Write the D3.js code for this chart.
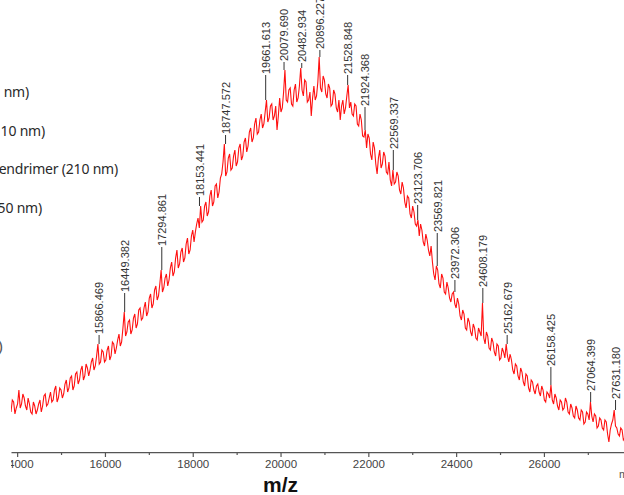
<!DOCTYPE html>
<html>
<head>
<meta charset="utf-8">
<script src="https://cdn.jsdelivr.net/npm/d3@7"></script>
<style>
  body { margin: 0; background: #fff; }
  svg { display: block; }
</style>
</head>
<body>
<svg id="chart" width="624" height="495"></svg>
<script>
// spectrum, sampled on a regular m/z grid
const mzStart = 13860;
const mzStep = 30;
const intensity = [
  10.0, 13.0, 12.5, 9.5, 11.0, 12.0, 15.5, 11.0, 12.0, 14.5, 13.5, 11.5, 10.5, 13.5, 12.0, 10.0, 9.5, 12.5, 11.5, 9.5,
  10.5, 12.0, 13.0, 10.0, 11.5, 14.0, 14.5, 11.5, 12.0, 13.5, 15.0, 12.5, 13.0, 15.5, 16.5, 12.5, 13.5, 16.0, 15.5, 13.5,
  14.5, 17.0, 18.0, 15.0, 16.0, 18.5, 19.0, 15.5, 16.5, 19.5, 20.0, 17.0, 18.0, 20.5, 21.5, 18.0, 19.0, 22.0, 21.0, 19.0,
  20.5, 22.5, 23.5, 20.5, 21.5, 24.0, 27.0, 22.0, 22.5, 25.5, 25.0, 22.5, 23.0, 25.5, 26.5, 23.0, 24.0, 27.5, 27.0, 24.5,
  26.0, 28.0, 29.5, 26.5, 27.5, 31.0, 35.0, 29.0, 30.0, 32.5, 33.0, 29.5, 30.5, 33.5, 34.5, 31.0, 32.0, 35.5, 36.0, 33.0,
  33.5, 36.0, 37.5, 34.0, 35.0, 38.5, 39.5, 36.0, 37.0, 40.5, 41.5, 38.0, 39.0, 42.0, 45.5, 40.0, 41.0, 43.5, 44.5, 41.5,
  43.0, 46.0, 47.5, 44.0, 45.0, 48.5, 50.5, 46.0, 47.0, 50.0, 51.0, 47.5, 48.5, 52.0, 53.5, 49.5, 50.5, 54.0, 55.5, 52.5,
  55.0, 57.0, 58.5, 56.0, 61.5, 57.5, 58.0, 61.5, 62.5, 59.0, 60.0, 64.0, 65.5, 61.5, 62.5, 66.5, 67.0, 63.5, 65.0, 68.5,
  69.5, 72.5, 77.0, 69.0, 70.0, 73.5, 74.5, 70.5, 71.0, 74.0, 75.5, 71.5, 72.5, 76.0, 77.0, 73.0, 74.0, 77.5, 78.5, 75.0,
  76.5, 80.0, 81.0, 77.5, 78.5, 82.0, 83.5, 79.5, 80.0, 83.0, 84.5, 81.0, 82.0, 85.0, 88.0, 82.5, 83.5, 86.5, 87.0, 83.0,
  84.0, 86.5, 80.5, 84.0, 88.5, 85.0, 86.0, 90.0, 95.5, 88.0, 87.5, 90.5, 91.0, 87.0, 86.5, 90.5, 92.0, 87.5, 88.5, 91.5,
  96.0, 90.5, 89.0, 93.0, 92.5, 87.5, 88.0, 90.0, 84.0, 88.5, 91.5, 88.0, 89.0, 92.5, 98.75, 91.0, 90.0, 94.0, 93.0, 89.5,
  88.5, 92.0, 91.0, 86.5, 87.0, 90.5, 89.5, 86.0, 85.0, 88.0, 83.0, 86.5, 88.0, 84.5, 86.0, 89.0, 91.75, 86.0, 87.5, 84.5,
  84.0, 87.0, 86.5, 82.0, 81.5, 84.5, 83.0, 79.0, 78.75, 80.5, 76.0, 79.5, 78.5, 74.5, 73.0, 77.5, 76.0, 72.0, 69.5, 73.5,
  75.5, 71.0, 72.0, 75.0, 74.0, 70.0, 69.5, 72.5, 68.0, 66.5, 70.5, 67.0, 67.5, 70.0, 69.0, 65.5, 64.5, 67.5, 66.0, 62.5,
  61.0, 64.0, 63.5, 59.5, 58.5, 61.5, 60.0, 57.0, 56.5, 58.0, 54.0, 57.0, 55.5, 52.5, 51.5, 54.5, 53.0, 50.5, 49.0, 51.5,
  47.5, 44.5, 43.0, 46.5, 45.5, 42.0, 41.0, 44.5, 43.5, 40.0, 39.5, 42.5, 41.0, 38.5, 37.5, 39.5, 40.0, 37.0, 36.0, 38.5,
  37.0, 34.0, 33.0, 35.5, 34.5, 31.0, 30.5, 33.5, 32.5, 30.0, 29.0, 32.0, 31.0, 28.5, 28.0, 31.0, 30.0, 29.0, 37.25, 28.5,
  27.0, 30.0, 29.0, 26.0, 25.5, 28.5, 27.5, 25.0, 24.0, 27.0, 26.5, 23.0, 23.5, 26.0, 25.0, 23.5, 27.0, 24.0, 22.5, 24.5,
  23.0, 20.5, 19.5, 22.0, 21.5, 19.0, 18.0, 21.0, 20.0, 17.5, 16.5, 19.5, 19.0, 16.0, 15.0, 18.0, 17.5, 15.5, 14.5, 16.5,
  17.0, 15.0, 14.0, 16.5, 15.5, 13.0, 12.5, 15.0, 14.5, 13.5, 16.75, 13.0, 12.0, 14.5, 13.5, 11.5, 10.5, 13.0, 12.5, 10.5,
  11.0, 13.5, 12.5, 10.0, 9.5, 12.0, 11.0, 9.0, 8.5, 11.5, 10.5, 8.5, 8.0, 10.5, 10.0, 7.0, 7.5, 10.0, 9.5, 8.0,
  12.5, 9.0, 7.5, 9.5, 9.0, 6.0, 6.5, 8.5, 8.0, 6.0, 5.5, 8.0, 7.5, 4.5, 2.5, 5.5, 7.0, 8.0, 10.5, 6.5,
  6.0, 4.5, 4.0, 6.0, 5.5, 3.0, 3.5
];

// picked peaks: m/z and the intensity where the label text starts
const peakMz = [
  15866.469, 16449.382, 17294.861, 18153.441, 18747.572, 19661.613, 20079.690,
  20482.934, 20896.227, 21528.848, 21924.368, 22569.337, 23123.706, 23569.821,
  23972.306, 24608.179, 25162.679, 26158.425, 27064.399, 27631.180
];
const peakLabelAt = [
  29.25, 39.75, 51.25, 63.75, 79.25, 94.25, 97.5,
  97.25, 100.5, 94.25, 86.25, 75.5, 61.75, 54.75,
  43, 41, 29.25, 21.25, 15, 13
];

const majorTicks = [14000, 16000, 18000, 20000, 22000, 24000, 26000];
const minorTicks = [15000, 17000, 19000, 21000, 23000, 25000, 27000];
const legendFragments = ["nm)", "10 nm)", "endrimer (210 nm)", "50 nm)"];

const svg = d3.select("#chart");
const width = 624, height = 495;

const x = d3.scaleLinear().domain([13860, 27824]).range([11, 624]);
const y = d3.scaleLinear().domain([0, 100]).range([452, 52]);

const spectrum = intensity.map((v, i) => ({ mz: mzStart + i * mzStep, v }));

svg.append("defs").append("clipPath").attr("id", "plotClip")
  .append("rect").attr("x", 11).attr("y", 0).attr("width", width - 11).attr("height", height);

// legend text left over from the neighbouring panel
svg.append("g")
  .selectAll("text")
  .data(legendFragments)
  .join("text")
  .attr("x", (d, i) => [29, 45, 118, 42][i])
  .attr("y", (d, i) => 97 + i * 38.7)
  .attr("text-anchor", "end")
  .attr("font-family", "Noto Sans, Arial, sans-serif")
  .attr("font-size", 14)
  .attr("letter-spacing", "-0.2")
  .attr("fill", "#2a2a2a")
  .text(d => d);

svg.append("text")
  .attr("x", 3).attr("y", 352)
  .attr("text-anchor", "end")
  .attr("font-family", "Arial, sans-serif")
  .attr("font-size", 16)
  .attr("fill", "#555")
  .text(")");

const plot = svg.append("g").attr("clip-path", "url(#plotClip)");

// spectrum trace
plot.append("path")
  .datum(spectrum)
  .attr("fill", "none")
  .attr("stroke", "#ff1010")
  .attr("stroke-width", 1.1)
  .attr("stroke-linejoin", "miter")
  .attr("d", d3.line().x(d => x(d.mz)).y(d => y(d.v)));

// peak labels
const fmt = d3.format(".3f");
const peaks = peakMz.map((mz, i) => {
  const k = Math.round((mz - mzStart) / mzStep);
  const top = d3.max(intensity.slice(Math.max(0, k - 1), k + 2));
  return { mz, top, at: peakLabelAt[i] };
});

const pk = plot.append("g").selectAll("g").data(peaks).join("g");
pk.append("line")
  .attr("x1", d => x(d.mz)).attr("x2", d => x(d.mz))
  .attr("y1", d => y(d.top)).attr("y2", d => y(d.at))
  .attr("stroke", "#333").attr("stroke-width", 1);
pk.append("text")
  .attr("transform", d => `translate(${x(d.mz) + 0.5},${y(d.at) - 1}) rotate(-90)`)
  .attr("dy", "0.35em")
  .attr("font-family", "Arial, Liberation Sans, sans-serif")
  .attr("font-size", 11)
  .attr("fill", "#333")
  .text(d => fmt(d.mz));

// x axis
const axisG = svg.append("g")
  .attr("clip-path", "url(#plotClip)")
  .attr("transform", "translate(0,452)");

axisG.append("g")
  .call(d3.axisBottom(x).tickValues(minorTicks).tickSize(3).tickSizeOuter(0).tickFormat(""))
  .call(g => g.select(".domain").remove());

axisG.append("g")
  .call(d3.axisBottom(x).tickValues(majorTicks).tickSize(5).tickSizeOuter(0).tickFormat(d3.format("d")))
  .call(g => g.select(".domain").attr("stroke", "#555").attr("stroke-width", 1.4))
  .call(g => g.selectAll(".tick text")
    .attr("font-family", "Arial, Liberation Sans, sans-serif")
    .attr("font-size", 11.5)
    .attr("fill", "#444"));

axisG.selectAll(".tick line").attr("stroke", "#555").attr("stroke-width", 1.2);

svg.append("text")
  .attr("x", x(20000)).attr("y", 492)
  .attr("text-anchor", "middle")
  .attr("font-family", "Arial, Liberation Sans, sans-serif")
  .attr("font-weight", "bold")
  .attr("font-size", 21)
  .attr("fill", "#111")
  .text("m/z");

svg.append("text")
  .attr("x", 619).attr("y", 478)
  .attr("font-family", "Arial, Liberation Sans, sans-serif")
  .attr("font-size", 11)
  .attr("fill", "#555")
  .text("m");
</script>
</body>
</html>
